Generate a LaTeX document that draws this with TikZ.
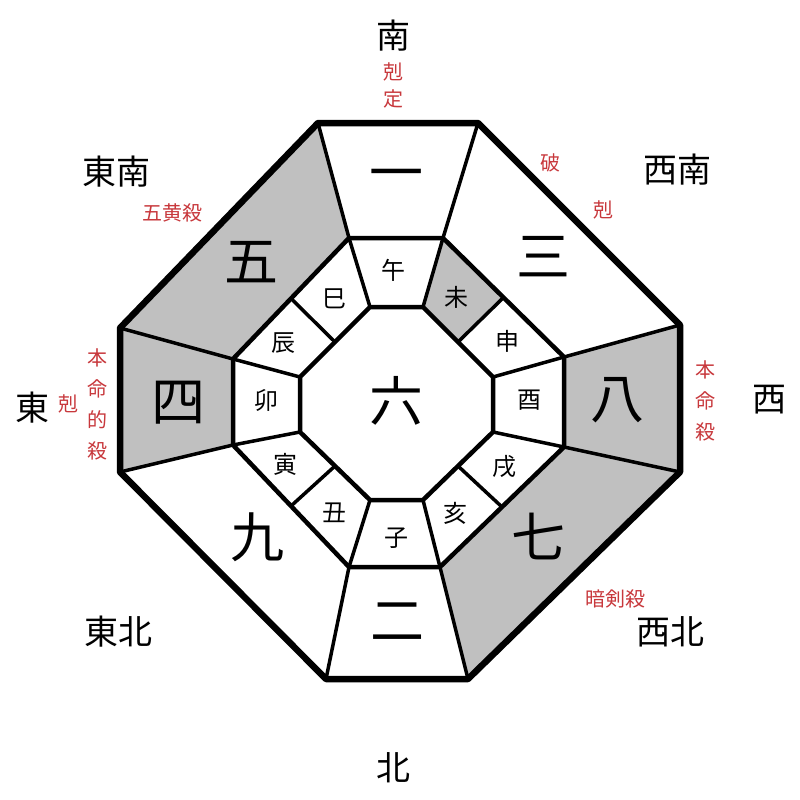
\documentclass[tikz,border=0pt]{standalone}
\usepackage{fontspec}
\setmainfont{Noto Sans CJK JP}
\usetikzlibrary{calc}
\definecolor{redtxt}{RGB}{200,56,60}
\definecolor{cellgray}{RGB}{192,192,192}
\begin{document}
\begin{tikzpicture}[x=1pt,y=-1pt,
  outerline/.style={line width=6.5pt,line join=round},
  midline/.style={line width=4.5pt,line join=round},
  spoke/.style={line width=3.5pt},
  cellfill/.style={fill=cellgray},
  big/.style={inner sep=0pt,font=\fontsize{54}{54}\selectfont},
  branch/.style={inner sep=0pt,font=\fontsize{24}{24}\selectfont},
  dir/.style={inner sep=0pt,font=\fontsize{34}{34}\selectfont},
  note/.style={inner sep=0pt,text=redtxt,align=center,font=\fontsize{20}{31}\selectfont},
  smallnote/.style={inner sep=0pt,text=redtxt,font=\fontsize{20}{20}\selectfont}]
\useasboundingbox (0,0) rectangle (800,800);
\fill[white] (0,0) rectangle (800,800);
% outer octagon
\coordinate (O1) at (318,123);
\coordinate (O2) at (478,123);
\coordinate (O3) at (680,325);
\coordinate (O4) at (680,472);
\coordinate (O5) at (468,679);
\coordinate (O6) at (326,679);
\coordinate (O7) at (120,472);
\coordinate (O8) at (120,328);
% middle octagon
\coordinate (M1) at (349,238);
\coordinate (M2) at (443,238);
\coordinate (M3) at (564,357);
\coordinate (M4) at (564,447);
\coordinate (M5) at (440,567);
\coordinate (M6) at (349,567);
\coordinate (M7) at (233,445);
\coordinate (M8) at (233,359);
% inner octagon
\coordinate (I1) at (370,307);
\coordinate (I2) at (423,307);
\coordinate (I3) at (493,377);
\coordinate (I4) at (493,432);
\coordinate (I5) at (423,500);
\coordinate (I6) at (370,500);
\coordinate (I7) at (300,432);
\coordinate (I8) at (300,377);
% midpoints of diagonal edges
\coordinate (MA) at ($(M2)!0.5!(M3)$);
\coordinate (MB) at ($(M4)!0.5!(M5)$);
\coordinate (MC) at ($(M6)!0.5!(M7)$);
\coordinate (MD) at ($(M8)!0.5!(M1)$);
\coordinate (IA) at ($(I2)!0.5!(I3)$);
\coordinate (IB) at ($(I4)!0.5!(I5)$);
\coordinate (IC) at ($(I6)!0.5!(I7)$);
\coordinate (ID) at ($(I8)!0.5!(I1)$);
% gray cells
\fill[cellfill] (O8) -- (O1) -- (M1) -- (M8) -- cycle;
\fill[cellfill] (O8) -- (M8) -- (M7) -- (O7) -- cycle;
\fill[cellfill] (O3) -- (O4) -- (M4) -- (M3) -- cycle;
\fill[cellfill] (O4) -- (O5) -- (M5) -- (M4) -- cycle;
\fill[cellfill] (I2) -- (M2) -- (MA) -- (IA) -- cycle;
% spokes outer ring
\foreach \i in {1,...,8} {\draw[spoke] (O\i) -- (M\i);}
% spokes inner ring
\foreach \i in {1,...,8} {\draw[spoke] (I\i) -- (M\i);}
\draw[spoke] (IA) -- (MA);
\draw[spoke] (IB) -- (MB);
\draw[spoke] (IC) -- (MC);
\draw[spoke] (ID) -- (MD);
% octagons
\draw[midline] (M1) -- (M2) -- (M3) -- (M4) -- (M5) -- (M6) -- (M7) -- (M8) -- cycle;
\draw[midline] (I1) -- (I2) -- (I3) -- (I4) -- (I5) -- (I6) -- (I7) -- (I8) -- cycle;
\draw[outerline] (O1) -- (O2) -- (O3) -- (O4) -- (O5) -- (O6) -- (O7) -- (O8) -- cycle;
% big numbers
\node[big] (n1) at (396,181) {一};
\node[big] (n3) at (543,257) {三};
\node[big] (n8) at (617,400) {八};
\node[big] (n7) at (538,536) {七};
\node[big] (n2) at (397,622) {二};
\node[big] (n9) at (257,537) {九};
\node[big] (n4) at (178,403) {四};
\node[big] (n5) at (251,262) {五};
\node[big] (n6) at (396,401) {六};
% branches
\node[branch] (b1) at (393,270) {午};
\node[branch] (b2) at (456,297) {未};
\node[branch] (b3) at (507,341) {申};
\node[branch] (b4) at (529,400) {酉};
\node[branch] (b5) at (504,467) {戌};
\node[branch] (b6) at (455,513) {亥};
\node[branch] (b7) at (396,538) {子};
\node[branch] (b8) at (334,513) {丑};
\node[branch] (b9) at (285,464) {寅};
\node[branch] (b10) at (266,400) {卯};
\node[branch] (b11) at (283,343) {辰};
\node[branch] (b12) at (334,299) {巳};
% directions
\node[dir] (dS) at (393,36) {南};
\node[dir] (dSE) at (116,172) {東南};
\node[dir] (dSW) at (677,170) {西南};
\node[dir] (dE) at (32,408) {東};
\node[dir] (dW) at (769,400) {西};
\node[dir] (dNE) at (118,632) {東北};
\node[dir] (dNW) at (670,632) {西北};
\node[dir] (dN) at (393,768) {北};
% red notes
\node[smallnote] (r1a) at (393,72) {剋};
\node[smallnote] (r1b) at (393,99) {定};
\node[note] (r2) at (172,213) {五黄殺};
\node[note] (r3) at (550,163) {破};
\node[note] (r4) at (603,210) {剋};
\node[note] (r5) at (68,404) {剋};
\node[note] (r6) at (97,404) {本\\命\\的\\殺};
\node[note] (r7) at (705,401) {本\\命\\殺};
\node[note] (r8) at (615,599) {暗剣殺};
\end{tikzpicture}
\end{document}
